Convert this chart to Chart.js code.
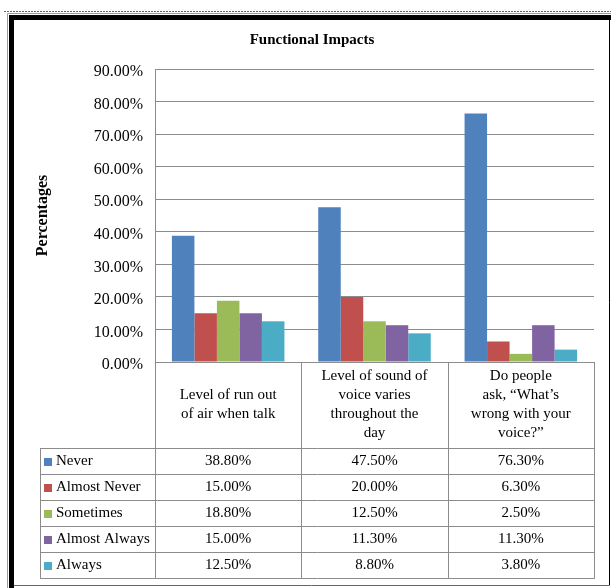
<!DOCTYPE html>
<html>
<head>
<meta charset="utf-8">
<title>Functional Impacts</title>
<script src="https://cdn.jsdelivr.net/npm/chart.js@4.4.1/dist/chart.umd.min.js"></script>
<style>
  html, body { margin: 0; padding: 0; background: #fff; }
  #chart { display: block; }
</style>
</head>
<body>
<canvas id="chart" width="611" height="588"></canvas>
<script>
// categories, wrapped the way the chart shows them
const categories = [
  ['Level of run out', 'of air when talk'],
  ['Level of sound of', 'voice varies', 'throughout the', 'day'],
  ['Do people', 'ask, \u201cWhat\u2019s', 'wrong with your', 'voice?\u201d']
];

const seriesNames = ['Never', 'Almost Never', 'Sometimes', 'Almost Always', 'Always'];
const seriesColors = ['#4F81BD', '#C0504D', '#9BBB59', '#8064A2', '#4BACC6'];

// percentages
const never = [38.8, 47.5, 76.3];
const almostNever = [15.0, 20.0, 6.3];
const sometimes = [18.8, 12.5, 2.5];
const almostAlways = [15.0, 11.3, 11.3];
const always = [12.5, 8.8, 3.8];

const yMin = 0;
const yMax = 90;
const yStep = 10;

const SERIF = "'Liberation Serif', 'Times New Roman', serif";
const LINE_GRAY = '#8c8c8c';

const seriesValues = [never, almostNever, sometimes, almostAlways, always];

// outer frame of the picture
const framePlugin = {
  id: 'frame',
  beforeDraw(chart) {
    const ctx = chart.ctx;
    ctx.save();
    ctx.fillStyle = '#fff';
    ctx.fillRect(0, 0, chart.width, chart.height);

    // dotted line on top
    ctx.strokeStyle = '#666';
    ctx.lineWidth = 1;
    ctx.setLineDash([2, 1]);
    ctx.beginPath();
    ctx.moveTo(4, 11.5);
    ctx.lineTo(chart.width, 11.5);
    ctx.stroke();
    ctx.setLineDash([]);

    // gray + thick black edge on top/left
    ctx.strokeStyle = '#9a9a9a';
    ctx.beginPath();
    ctx.moveTo(7.5, chart.height);
    ctx.lineTo(7.5, 13.5);
    ctx.lineTo(chart.width, 13.5);
    ctx.stroke();
    ctx.fillStyle = '#000';
    ctx.fillRect(9, 15, 5, chart.height - 15);
    ctx.fillRect(9, 15, chart.width - 9, 5);

    // thin right/bottom edges
    ctx.strokeStyle = '#000';
    ctx.beginPath();
    ctx.moveTo(609.5, 20);
    ctx.lineTo(609.5, 585.5);
    ctx.stroke();
    ctx.strokeStyle = '#666';
    ctx.beginPath();
    ctx.moveTo(14, 585.5);
    ctx.lineTo(609, 585.5);
    ctx.stroke();
    ctx.restore();
  }
};

// data table under the plot
const dataTablePlugin = {
  id: 'dataTable',
  afterDraw(chart) {
    const ctx = chart.ctx;
    const xs = chart.scales.x;
    const area = chart.chartArea;
    const half = (xs.getPixelForValue(1) - xs.getPixelForValue(0)) / 2;
    const top = area.bottom;
    const catBottom = 448;
    const rowH = 26;
    const tableLeft = 40;
    const tableRight = area.right;
    const datasets = chart.data.datasets;
    const tableBottom = catBottom + rowH * datasets.length;

    ctx.save();
    ctx.strokeStyle = LINE_GRAY;
    ctx.lineWidth = 1;
    ctx.beginPath();
    // vertical lines
    const xLines = [area.left];
    chart.data.labels.forEach((_, i) => xLines.push(xs.getPixelForValue(i) + half));
    xLines.forEach((x) => {
      const px = Math.round(x) + 0.5;
      ctx.moveTo(px, top);
      ctx.lineTo(px, tableBottom);
    });
    ctx.moveTo(tableLeft + 0.5, catBottom);
    ctx.lineTo(tableLeft + 0.5, tableBottom);
    // horizontal lines
    for (let r = 0; r <= datasets.length; r++) {
      const y = catBottom + r * rowH + 0.5;
      ctx.moveTo(tableLeft, y);
      ctx.lineTo(tableRight + 1, y);
    }
    ctx.stroke();

    // category labels
    ctx.fillStyle = '#000';
    ctx.font = '15px ' + SERIF;
    ctx.textAlign = 'center';
    ctx.textBaseline = 'middle';
    const lh = 19;
    chart.data.labels.forEach((lines, i) => {
      const cx = xs.getPixelForValue(i);
      const cy = (top + catBottom) / 2;
      const y0 = cy - (lines.length - 1) * lh / 2;
      lines.forEach((t, k) => ctx.fillText(t, cx, y0 + k * lh));
    });

    // rows: legend key + values
    datasets.forEach((ds, r) => {
      const cy = catBottom + r * rowH + rowH / 2 + 0.5;
      ctx.fillStyle = ds.backgroundColor;
      ctx.fillRect(44, Math.round(cy - 4), 8, 8);
      ctx.fillStyle = '#000';
      ctx.textAlign = 'left';
      ctx.fillText(ds.label, 56, cy);
      ctx.textAlign = 'center';
      ds.data.forEach((v, i) => {
        ctx.fillText(v.toFixed(2) + '%', xs.getPixelForValue(i), cy);
      });
    });
    ctx.restore();
  }
};

const ctx = document.getElementById('chart').getContext('2d');

const chart = new Chart(ctx, {
  type: 'bar',
  data: {
    labels: categories,
    datasets: seriesNames.map((name, i) => ({
      label: name,
      data: seriesValues[i],
      backgroundColor: seriesColors[i],
      borderWidth: 0,
      barPercentage: 1,
      categoryPercentage: 0.769
    }))
  },
  options: {
    responsive: false,
    animation: false,
    devicePixelRatio: 1,
    layout: {
      padding: { left: 30, right: 17, top: 31, bottom: 226 }
    },
    plugins: {
      legend: { display: false },
      tooltip: { enabled: false },
      title: {
        display: true,
        text: 'Functional Impacts',
        color: '#000',
        font: { family: SERIF, size: 15, weight: 'bold' },
        padding: { top: 0, bottom: 20 }
      }
    },
    scales: {
      x: {
        grid: { display: false, drawTicks: false },
        border: { display: false },
        ticks: { display: false },
        afterFit(scale) { scale.height = 0; }
      },
      y: {
        min: yMin,
        max: yMax,
        ticks: {
          stepSize: yStep,
          color: '#000',
          padding: 12,
          labelOffset: 3,
          font: { family: SERIF, size: 16 },
          callback: (v) => v.toFixed(2) + '%'
        },
        grid: { color: LINE_GRAY, lineWidth: 1, drawTicks: false },
        border: { display: true, color: LINE_GRAY, width: 1 },
        title: {
          display: true,
          text: 'Percentages',
          color: '#000',
          font: { family: SERIF, size: 16, weight: 'bold' },
          padding: { top: 3, bottom: 0 }
        },
        afterFit(scale) { scale.width = 125; }
      }
    }
  },
  plugins: [framePlugin, dataTablePlugin]
});
</script>
</body>
</html>
